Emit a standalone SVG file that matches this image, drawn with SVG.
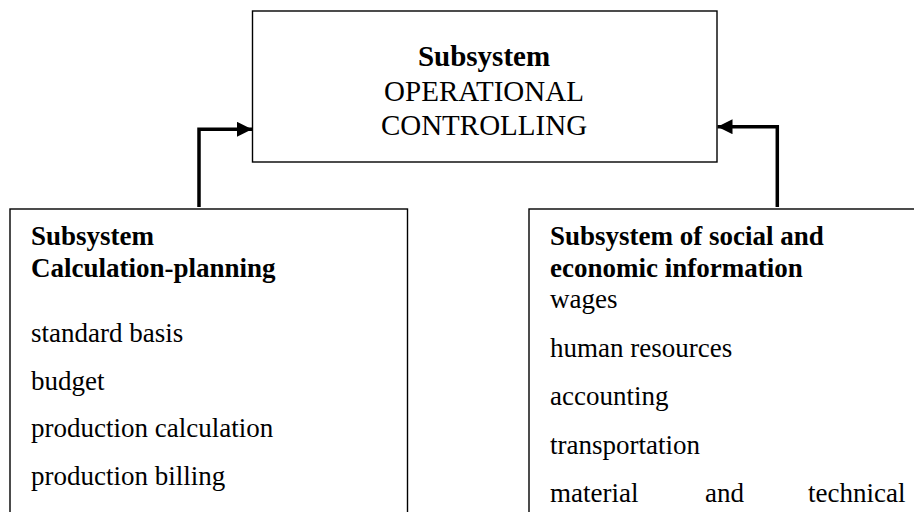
<svg xmlns="http://www.w3.org/2000/svg" width="914" height="512" viewBox="0 0 914 512">
  <style>
    .box { fill: #ffffff; stroke: #000000; stroke-width: 1.4; }
    .conn { fill: none; stroke: #000000; stroke-width: 3.5; stroke-linejoin: miter; }
    text { font-family: "Liberation Serif", "Times New Roman", serif; fill: #000000; }
    .title { font-size: 29px; }
    .body { font-size: 27px; }
    .bold { font-weight: bold; }
  </style>
  <defs>
    <marker id="head" viewBox="0 0 10 10" refX="10" refY="5" markerUnits="userSpaceOnUse" markerWidth="15" markerHeight="15" orient="auto">
      <path d="M0,0 L10,5 L0,10 z" fill="#000000"/>
    </marker>
  </defs>

  <rect width="914" height="512" fill="#ffffff"/>

  <!-- central node -->
  <g id="operational-controlling">
    <rect class="box" x="252.5" y="11" width="464.5" height="151"/>
    <text class="title bold" text-anchor="middle" x="484" y="65.5">Subsystem</text>
    <text class="title" text-anchor="middle" x="484" y="100.5">OPERATIONAL</text>
    <text class="title" text-anchor="middle" x="484" y="134.5">CONTROLLING</text>
  </g>

  <!-- left node -->
  <g id="calculation-planning">
    <rect class="box" x="10" y="209" width="397.5" height="320"/>
    <text class="body bold" x="31" y="245">Subsystem</text>
    <text class="body bold" x="31" y="277">Calculation-planning</text>
    <text class="body" x="31" y="342">standard basis</text>
    <text class="body" x="31" y="389.5">budget</text>
    <text class="body" x="31" y="437">production calculation</text>
    <text class="body" x="31" y="485">production billing</text>
  </g>

  <!-- right node -->
  <g id="social-economic-information">
    <rect class="box" x="529" y="209" width="420" height="320"/>
    <text class="body bold" x="550" y="245">Subsystem of social and</text>
    <text class="body bold" x="550" y="277">economic information</text>
    <text class="body" x="550" y="308">wages</text>
    <text class="body" x="550" y="357">human resources</text>
    <text class="body" x="550" y="405">accounting</text>
    <text class="body" x="550" y="454">transportation</text>
    <text class="body" y="501.5"><tspan x="550">material</tspan><tspan x="705">and</tspan><tspan x="808">technical</tspan></text>
  </g>

  <!-- connectors -->
  <g id="connectors">
    <path class="conn" d="M199,207 V129.3 H252" marker-end="url(#head)"/>
    <path class="conn" d="M777.3,207 V126.7 H717.5" marker-end="url(#head)"/>
  </g>
</svg>
